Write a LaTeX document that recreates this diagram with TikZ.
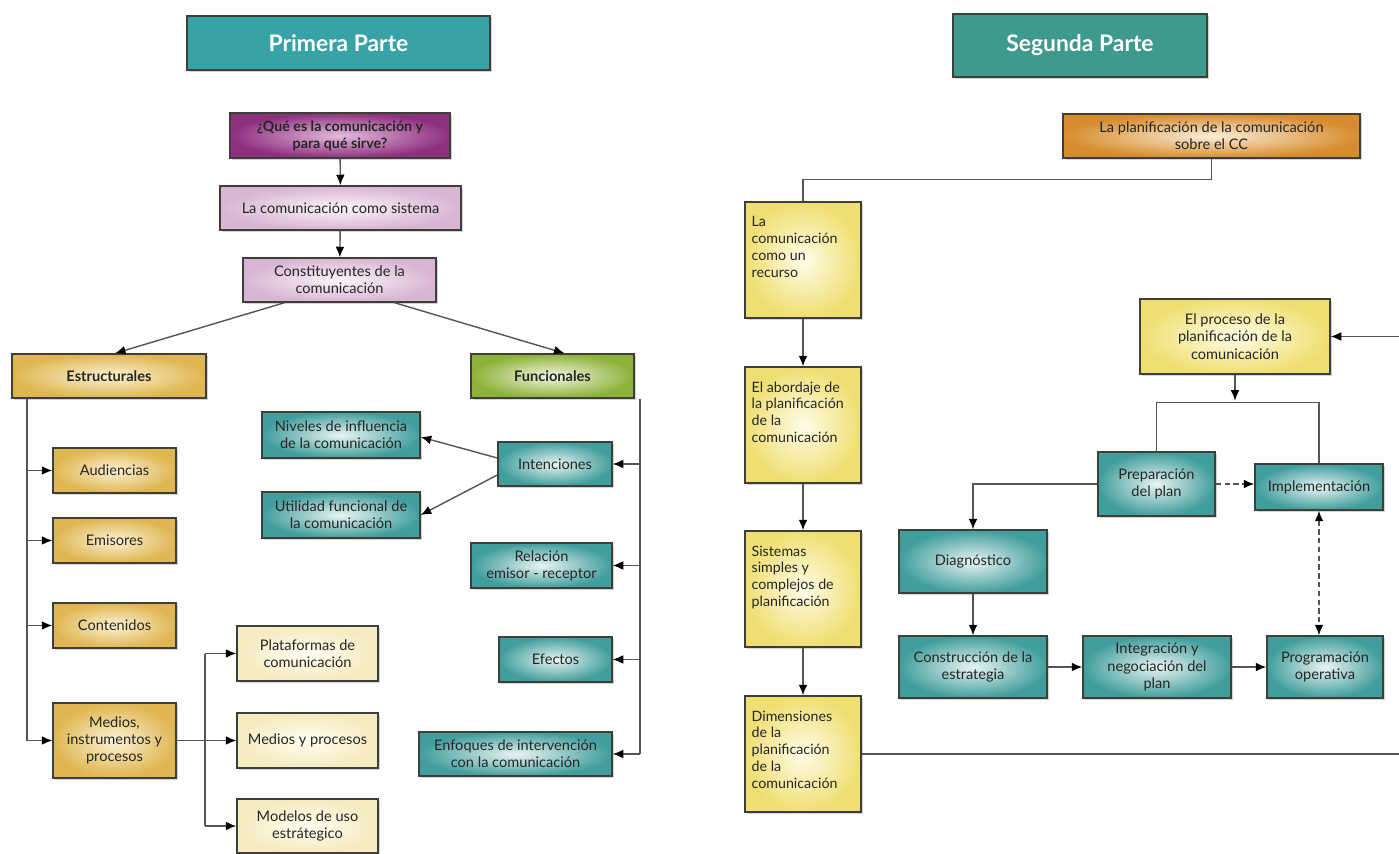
\documentclass[tikz,border=0pt]{standalone}
\usepackage{fontspec}
\setmainfont{Lato}
\usetikzlibrary{shadows,calc,arrows.meta}
\definecolor{tealA}{HTML}{38A3A6}
\definecolor{tealB}{HTML}{3E9A8C}
\definecolor{purpleOut}{HTML}{8F2F80}
\definecolor{purpleIn}{HTML}{E3BCDB}
\definecolor{lavOut}{HTML}{D8B6D3}
\definecolor{lavIn}{HTML}{FBF3F9}
\definecolor{goldOut}{HTML}{DFB651}
\definecolor{goldIn}{HTML}{FCF2D4}
\definecolor{greenOut}{HTML}{8DB23A}
\definecolor{greenIn}{HTML}{F1F5DF}
\definecolor{tealOut}{HTML}{419E9C}
\definecolor{tealIn}{HTML}{E8F4F3}
\definecolor{creamOut}{HTML}{F5EBC0}
\definecolor{creamIn}{HTML}{FFFDF0}
\definecolor{orangeOut}{HTML}{D78D2F}
\definecolor{orangeIn}{HTML}{FBEDD8}
\definecolor{yelOut}{HTML}{EFDF72}
\definecolor{yelIn}{HTML}{FFFCE8}
\definecolor{boxline}{HTML}{3F3F3A}
\definecolor{linegray}{HTML}{555555}
\definecolor{txt}{HTML}{262626}
\tikzset{>={Latex[length=6pt,width=5pt,color=black]}}
\tikzset{
  box/.style = {draw=boxline, line width=0.8pt, inner sep=1pt, align=center,
    text=txt, font=\fontsize{8.3}{9.8}\selectfont,
    drop shadow={shadow xshift=0.9pt, shadow yshift=-1.4pt, opacity=0.35}},
  sz/.style 2 args = {minimum width=#1*0.02cm, minimum height=#2*0.02cm},
  titlebox/.style = {box, fill=#1, text=white, font=\fontsize{13}{15}\selectfont\bfseries},
  purplebox/.style = {box, inner color=purpleIn, outer color=purpleOut},
  lavbox/.style = {box, inner color=lavIn, outer color=lavOut},
  goldbox/.style = {box, inner color=goldIn, outer color=goldOut},
  greenbox/.style = {box, inner color=greenIn, outer color=greenOut},
  tealbox/.style = {box, inner color=tealIn, outer color=tealOut},
  creambox/.style = {box, inner color=creamIn, outer color=creamOut},
  orangebox/.style = {box, inner color=orangeIn, outer color=orangeOut},
  yelbox/.style = {box, inner color=yelIn, outer color=yelOut},
  tallbox/.style = {yelbox, sz={116}{116}},
  toptext/.style = {anchor=north west, align=left, inner sep=0pt, text=txt,
    font=\fontsize{8.1}{9.6}\selectfont, xshift=0.14cm, yshift=-0.3cm},
  conn/.style = {draw=linegray, line width=0.8pt},
}

\begin{document}
\begin{tikzpicture}[x=0.02cm, y=-0.02cm]
  \useasboundingbox (0,0) rectangle (1399,854);
  \clip (0,0) rectangle (1399,854);

  % primera parte
  \node[titlebox=tealA, sz={303}{54}] (prim) at (338.5,43) {Primera Parte};
  \node[purplebox, sz={220}{45}, font=\fontsize{8.1}{9.6}\selectfont\bfseries] (que) at (340,135.5)
    {¿Qué es la comunicación y\\para qué sirve?};
  \node[lavbox, sz={241}{44}] (sist) at (340.5,208) {La comunicación como sistema};
  \node[lavbox, sz={193}{44}] (const) at (339.5,280) {Constituyentes de la\\comunicación};
  \node[goldbox, sz={194}{44}, font=\fontsize{8.3}{9.8}\selectfont\bfseries] (estr) at (109,376) {Estructurales};
  \node[greenbox, sz={163}{44}, font=\fontsize{8.3}{9.8}\selectfont\bfseries] (func) at (552.5,376) {Funcionales};

  \node[goldbox, sz={123}{45}] (aud) at (114.5,470.5) {Audiencias};
  \node[goldbox, sz={123}{45}] (emi) at (114.5,540.5) {Emisores};
  \node[goldbox, sz={123}{45}] (cont) at (114.5,625.5) {Contenidos};
  \node[goldbox, sz={123}{75}] (med) at (114.5,740.5) {Medios,\\instrumentos y\\procesos};

  \node[creambox, sz={141}{55}] (plat) at (307.5,653.5) {Plataformas de\\comunicación};
  \node[creambox, sz={141}{55}] (myp) at (307.5,740.5) {Medios y procesos};
  \node[creambox, sz={141}{54}] (mod) at (307.5,826) {Modelos de uso\\estrátegico};

  \node[tealbox, sz={158}{46}] (niv) at (341,435) {Niveles de influencia\\de la comunicación};
  \node[tealbox, sz={158}{46}] (util) at (341,515) {Utilidad funcional de\\la comunicación};
  \node[tealbox, sz={114}{44}] (inte) at (555,464) {Intenciones};
  \node[tealbox, sz={141}{45}] (rel) at (541.5,565.5) {Relación\\emisor - receptor};
  \node[tealbox, sz={113}{45}] (efe) at (555.5,659.5) {Efectos};
  \node[tealbox, sz={193}{44}] (enf) at (515.5,754) {Enfoques de intervención\\con la comunicación};

  \draw[conn,->] (que) -- (sist);
  \draw[conn,->] (sist) -- (const);
  \draw[conn,->] ($(const.south)+(-55,0)$) -- ($(estr.north)+(6,0)$);
  \draw[conn,->] ($(const.south)+(55,0)$) -- ($(func.north)+(12,0)$);

  \coordinate (ltrunk) at (27,0);
  \draw[conn] (ltrunk |- estr.south) -- (ltrunk |- med.west);
  \foreach \n in {aud,emi,cont,med}
    \draw[conn,->] (ltrunk |- \n.west) -- (\n.west);

  \coordinate (mbr) at (205,0);
  \draw[conn] (med.east) -- (mbr |- med.east);
  \draw[conn] (mbr |- plat.west) -- (mbr |- mod.west);
  \foreach \n in {plat,myp,mod}
    \draw[conn,->] (mbr |- \n.west) -- (\n.west);

  \coordinate (rtrunk) at (640,0);
  \draw[conn] (rtrunk |- func.south) -- (rtrunk |- enf.east);
  \foreach \n in {inte,rel,efe,enf}
    \draw[conn,->] (rtrunk |- \n.east) -- (\n.east);

  \draw[conn,->] ($(inte.west)+(0,-6)$) -- ($(niv.east)+(0,2)$);
  \draw[conn,->] ($(inte.west)+(0,11)$) -- (util.east);

  % segunda parte
  \node[titlebox=tealB, sz={254}{63}] (seg) at (1080,45.5) {Segunda Parte};
  \node[orangebox, sz={297}{44}] (plan) at (1211.5,136) {La planificación de la comunicación\\sobre el CC};

  \node[tallbox, label={[toptext]north west:La\\comunicación\\como un\\recurso}] (rec) at (803,260) {};
  \node[tallbox, label={[toptext]north west:El abordaje de\\la planificación\\de la\\comunicación}] (abo) at (803,425) {};
  \node[tallbox, label={[toptext]north west:Sistemas\\simples y\\complejos de\\planificación}] (sis) at (803,589) {};
  \node[tallbox, label={[toptext]north west:Dimensiones\\de la\\planificación\\de la\\comunicación}] (dim) at (803,754) {};

  \node[yelbox, sz={190}{75}] (proc) at (1235,336.5) {El proceso de la\\planificación de la\\comunicación};
  \node[tealbox, sz={117}{64}] (prep) at (1156.5,484) {Preparación\\del plan};
  \node[tealbox, sz={128}{46}] (impl) at (1319,487) {Implementación};
  \node[tealbox, sz={148}{63}] (diag) at (973,561.5) {Diagnóstico};
  \node[tealbox, sz={148}{62}] (cons) at (973,667) {Construcción de la\\estrategia};
  \node[tealbox, sz={148}{62}] (integ) at (1157,667) {Integración y\\negociación del\\plan};
  \node[tealbox, sz={116}{62}] (prog) at (1325,667) {Programación\\operativa};

  \draw[conn] (plan.south) -- ++(0,21) -| (rec.north);
  \draw[conn,->] (rec) -- (abo);
  \draw[conn,->] (abo) -- (sis);
  \draw[conn,->] (sis) -- (dim);

  \coordinate (split) at ($(proc.south)+(0,28)$);
  \draw[conn,->] (proc.south) -- ($(split)+(0,-2)$);
  \draw[conn] (prep.north) -- (prep.north |- split) -- (impl.north |- split) -- (impl.north);
  \draw[conn,->,densely dashed] (prep.east) -- (prep.east -| impl.west);
  \draw[conn,->] (prep.west) -| (diag.north);
  \draw[conn,->] (diag) -- (cons);
  \draw[conn,->] (cons) -- (integ);
  \draw[conn,->] (integ) -- (prog);
  \draw[conn,<->,densely dashed] (impl.south) -- (impl.south |- prog.north);

  \coordinate (redge) at (1405,0);
  \draw[conn,->] (dim.east) -- (redge |- dim.east) -- (redge |- proc.east) -- (proc.east);
\end{tikzpicture}
\end{document}
